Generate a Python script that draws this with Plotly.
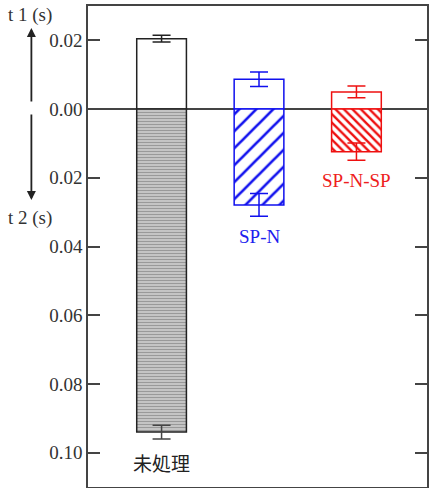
import plotly.graph_objects as go

categories = ["未処理", "SP-N", "SP-N-SP"]
t1_values = [0.0205, 0.0087, 0.0050]
t1_errors = [0.0010, 0.0021, 0.0017]
t2_values = [0.0940, 0.0279, 0.0124]
t2_errors = [0.0020, 0.0033, 0.0025]
tick_vals = [0.02, 0.0, -0.02, -0.04, -0.06, -0.08, -0.10]
tick_text = ["0.02", "0.00", "0.02", "0.04", "0.06", "0.08", "0.10"]

colors = ["#222222", "#1010ee", "#ee1010"]
label_colors = ["#222222", "#2020ee", "#ee2020"]
pat_shape = ["-", "/", "\\"]
pat_fg = ["#999999", "#1010ee", "#ee1010"]
pat_bg = ["#c4c4c4", "white", "white"]
pat_size = [3, 12, 6]
pat_sol = [0.35, 0.22, 0.4]

fig = go.Figure()
for i, cat in enumerate(categories):
    fig.add_trace(go.Bar(
        x=[i], y=[t1_values[i]], width=0.51,
        marker=dict(color="white", line=dict(color=colors[i], width=1.5)),
        error_y=dict(type="data", array=[t1_errors[i]], color=colors[i],
                     thickness=1.5, width=9),
        showlegend=False,
    ))
    fig.add_trace(go.Bar(
        x=[i], y=[-t2_values[i]], width=0.51,
        marker=dict(color=pat_bg[i], line=dict(color=colors[i], width=1.5),
                    pattern=dict(shape=pat_shape[i], fgcolor=pat_fg[i],
                                 bgcolor=pat_bg[i], size=pat_size[i],
                                 solidity=pat_sol[i], fillmode="replace",
                                 fgopacity=1)),
        error_y=dict(type="data", array=[t2_errors[i]], color="#444444" if i == 0 else colors[i],
                     thickness=1.5, width=9),
        showlegend=False,
    ))

annotations = []
for i, cat in enumerate(categories):
    annotations.append(dict(
        x=i, y=-(t2_values[i] + t2_errors[i]), xref="x", yref="y",
        text=cat, showarrow=False, yanchor="top", xanchor="center", yshift=-8,
        font=dict(size=19, color=label_colors[i],
                  family="Noto Sans CJK JP" if i == 0 else "Liberation Serif"),
    ))

annotations += [
    dict(x=-0.170, y=0.0274, xref="paper", yref="y", text="t 1 (s)", showarrow=False,
         xanchor="center", yanchor="middle", font=dict(size=19, color="#333", family="Liberation Serif")),
    dict(x=-0.170, y=-0.0317, xref="paper", yref="y", text="t 2 (s)", showarrow=False,
         xanchor="center", yanchor="middle", font=dict(size=19, color="#333", family="Liberation Serif")),
    dict(x=-0.167, y=0.0236, xref="paper", yref="y", ax=0, ay=75, text="", showarrow=True,
         arrowhead=2, arrowsize=1, arrowwidth=1.8, arrowcolor="#222"),
    dict(x=-0.167, y=-0.0265, xref="paper", yref="y", ax=0, ay=-87, text="", showarrow=True,
         arrowhead=2, arrowsize=1, arrowwidth=1.8, arrowcolor="#222"),
]

fig.update_layout(
    width=430, height=488,
    margin=dict(l=88, r=1, t=6, b=1),
    paper_bgcolor="white", plot_bgcolor="white",
    barmode="overlay",
    annotations=annotations,
    xaxis=dict(range=[-0.755, 2.724], showticklabels=False, ticks="",
               showgrid=False, zeroline=False, showline=True, mirror=True,
               linecolor="#444", linewidth=1.5),
    yaxis=dict(range=[-0.110, 0.030], tickvals=tick_vals, ticktext=tick_text,
               ticks="inside", ticklen=12, tickwidth=1.5, tickcolor="#444",
               showgrid=False, zeroline=True, zerolinecolor="#444", zerolinewidth=1.5,
               showline=True, mirror="ticks", linecolor="#444", linewidth=1.5,
               layer="above traces",
               tickfont=dict(size=19, color="#333", family="Liberation Serif")),
    font=dict(family="Liberation Serif"),
)

fig.write_html("out.html")
